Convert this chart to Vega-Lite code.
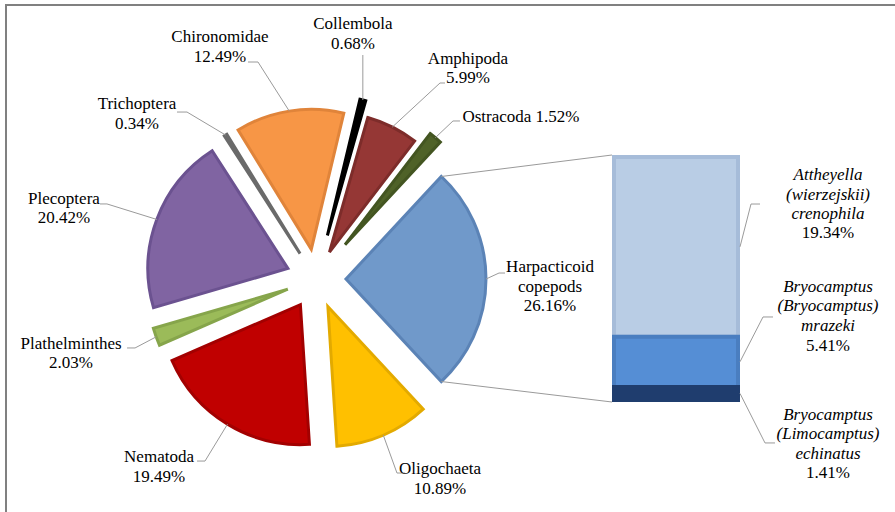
{
  "$schema": "https://vega.github.io/schema/vega-lite/v6.json",
  "width": 891,
  "height": 509,
  "autosize": {"type": "none"},
  "padding": {"left": 6, "top": 5, "right": -2, "bottom": -2},
  "background": "white",
  "config": {"view": {"stroke": "#808080", "strokeWidth": 2}},
  "layer": [
    {
      "data": {"values": [
        {"name": "Collembola", "pct": 0.68, "order": 1},
        {"name": "Amphipoda", "pct": 5.99, "order": 2},
        {"name": "Ostracoda", "pct": 1.52, "order": 3},
        {"name": "Harpacticoid copepods", "pct": 26.16, "order": 4},
        {"name": "Oligochaeta", "pct": 10.89, "order": 5},
        {"name": "Nematoda", "pct": 19.49, "order": 6},
        {"name": "Plathelminthes", "pct": 2.03, "order": 7},
        {"name": "Plecoptera", "pct": 20.42, "order": 8},
        {"name": "Trichoptera", "pct": 0.34, "order": 9},
        {"name": "Chironomidae", "pct": 12.49, "order": 10}
      ]},
      "transform": [
        {"stack": "pct", "groupby": [], "sort": [{"field": "order", "order": "ascending"}], "as": ["p0", "p1"]},
        {"calculate": "0.2346 + datum.p0 / 100.01 * 2 * PI", "as": "a0"},
        {"calculate": "0.2346 + datum.p1 / 100.01 * 2 * PI", "as": "a1"},
        {"calculate": "(datum.a0 + datum.a1) / 2", "as": "am"},
        {"calculate": "indexof(['Collembola', 'Ostracoda'], datum.name) >= 0 ? 45 : 30", "as": "d"},
        {"calculate": "datum.d * sin(datum.am)", "as": "ex"},
        {"calculate": "-datum.d * cos(datum.am)", "as": "ey"},
        {"calculate": "(datum.d + 140) * sin(datum.am)", "as": "px"},
        {"calculate": "-(datum.d + 140) * cos(datum.am)", "as": "py"},
        {"calculate": "[[-10,-76,0,-45,0],[75.7,-68.1,47.7,-44.1,5],[85.6,-20.7,17.6,-16.7,7],[64,-12,13,-6,6],[56.7,33.9,13.7,37.9,8],[-68.5,32.9,-22.5,36.9,-8],[-85.1,7.1,-21.1,11.1,-8],[-92.8,-20.5,-49.8,-15.5,-7],[-88.6,-31,-38.6,-23,-10],[-69.3,-74.1,-31.3,-49.1,-10]][datum.order - 1]", "as": "o"},
        {"calculate": "datum.px + datum.o[0]", "as": "tx"},
        {"calculate": "datum.py + datum.o[1]", "as": "ty"},
        {"calculate": "datum.px + datum.o[2]", "as": "lx"},
        {"calculate": "datum.py + datum.o[3]", "as": "ly"},
        {"calculate": "datum.lx + datum.o[4]", "as": "sx"},
        {"calculate": "datum.ex + 140 * sin(datum.a0)", "as": "cxt"},
        {"calculate": "datum.ey - 140 * cos(datum.a0)", "as": "cyt"},
        {"calculate": "datum.ex + 140 * sin(datum.a1)", "as": "cxb"},
        {"calculate": "datum.ey - 140 * cos(datum.a1)", "as": "cyb"},
        {"calculate": "datum.name == 'Ostracoda' ? datum.name + ' ' + format(datum.pct, '.2f') + '%' : replace(datum.name, ' ', '\\n') + '\\n' + format(datum.pct, '.2f') + '%'", "as": "lab"}
      ],
      "layer": [
        {
          "mark": {"type": "arc", "outerRadius": 140, "strokeWidth": 3, "strokeJoin": "miter"},
          "encoding": {
            "theta": {"field": "a0", "type": "quantitative", "scale": null},
            "theta2": {"field": "a1"},
            "x": {"field": "ex", "type": "quantitative", "scale": {"domain": [-310, 579], "range": [0, 889], "nice": false, "zero": false}, "axis": null},
            "y": {"field": "ey", "type": "quantitative", "scale": {"domain": [-274, 233], "range": [0, 507], "nice": false, "zero": false}, "axis": null},
            "color": {"field": "name", "type": "nominal", "legend": null, "scale": {
              "domain": ["Collembola", "Amphipoda", "Ostracoda", "Harpacticoid copepods", "Oligochaeta", "Nematoda", "Plathelminthes", "Plecoptera", "Trichoptera", "Chironomidae"],
              "range": ["#000000", "#953735", "#4F6228", "#7099CA", "#FFC000", "#C00000", "#9BBB59", "#8064A2", "#7F7F7F", "#F79646"]}},
            "stroke": {"field": "name", "type": "nominal", "legend": null, "scale": {
              "domain": ["Collembola", "Amphipoda", "Ostracoda", "Harpacticoid copepods", "Oligochaeta", "Nematoda", "Plathelminthes", "Plecoptera", "Trichoptera", "Chironomidae"],
              "range": ["#000000", "#7D2C2A", "#435521", "#5B83B6", "#E3AA00", "#A30000", "#86A54B", "#6B5290", "#6A6A6A", "#E0843A"]}}
          }
        },
        {
          "mark": {"type": "rule", "color": "#9a9a9a", "strokeWidth": 1},
          "encoding": {
            "x": {"field": "px", "type": "quantitative", "scale": {"domain": [-310, 579], "range": [0, 889], "nice": false, "zero": false}, "axis": null},
            "y": {"field": "py", "type": "quantitative", "scale": {"domain": [-274, 233], "range": [0, 507], "nice": false, "zero": false}, "axis": null},
            "x2": {"field": "lx"},
            "y2": {"field": "ly"}
          }
        },
        {
          "mark": {"type": "rule", "color": "#9a9a9a", "strokeWidth": 1},
          "encoding": {
            "x": {"field": "lx", "type": "quantitative", "scale": {"domain": [-310, 579], "range": [0, 889], "nice": false, "zero": false}, "axis": null},
            "y": {"field": "ly", "type": "quantitative", "scale": {"domain": [-274, 233], "range": [0, 507], "nice": false, "zero": false}, "axis": null},
            "x2": {"field": "sx"},
            "y2": {"field": "ly"}
          }
        },
        {
          "transform": [{"filter": "datum.name == 'Harpacticoid copepods'"}],
          "mark": {"type": "rule", "color": "#9a9a9a", "strokeWidth": 1},
          "encoding": {
            "x": {"field": "cxt", "type": "quantitative", "scale": {"domain": [-310, 579], "range": [0, 889], "nice": false, "zero": false}, "axis": null},
            "y": {"field": "cyt", "type": "quantitative", "scale": {"domain": [-274, 233], "range": [0, 507], "nice": false, "zero": false}, "axis": null},
            "x2": {"datum": 296},
            "y2": {"datum": -124}
          }
        },
        {
          "transform": [{"filter": "datum.name == 'Harpacticoid copepods'"}],
          "mark": {"type": "rule", "color": "#9a9a9a", "strokeWidth": 1},
          "encoding": {
            "x": {"field": "cxb", "type": "quantitative", "scale": {"domain": [-310, 579], "range": [0, 889], "nice": false, "zero": false}, "axis": null},
            "y": {"field": "cyb", "type": "quantitative", "scale": {"domain": [-274, 233], "range": [0, 507], "nice": false, "zero": false}, "axis": null},
            "x2": {"datum": 296},
            "y2": {"datum": 123}
          }
        },
        {
          "mark": {"type": "text", "font": "Liberation Serif", "fontSize": 17, "lineHeight": 19.5, "lineBreak": "\n", "align": "center", "baseline": "middle", "color": "#000000"},
          "encoding": {
            "x": {"field": "tx", "type": "quantitative", "scale": {"domain": [-310, 579], "range": [0, 889], "nice": false, "zero": false}, "axis": null},
            "y": {"field": "ty", "type": "quantitative", "scale": {"domain": [-274, 233], "range": [0, 507], "nice": false, "zero": false}, "axis": null},
            "text": {"field": "lab"}
          }
        }
      ]
    },
    {
      "data": {"values": [
        {"sp": "Attheyella (wierzejskii) crenophila", "pct": 19.34, "order": 1},
        {"sp": "Bryocamptus (Bryocamptus) mrazeki", "pct": 5.41, "order": 2},
        {"sp": "Bryocamptus (Limocamptus) echinatus", "pct": 1.41, "order": 3}
      ]},
      "transform": [
        {"stack": "pct", "groupby": [], "sort": [{"field": "order", "order": "ascending"}], "as": ["b0", "b1"]},
        {"calculate": "(datum.b0 + datum.b1) / 2", "as": "bm"},
        {"calculate": "format(datum.pct, '.2f') + '%'", "as": "pl"}
      ],
      "layer": [
        {
          "mark": {"type": "rect", "strokeWidth": 4, "strokeJoin": "miter"},
          "encoding": {
            "x": {"datum": 0, "type": "quantitative", "scale": {"domain": [0, 1], "range": [608, 732], "nice": false, "zero": false}, "axis": null},
            "x2": {"datum": 1},
            "y": {"field": "b0", "type": "quantitative", "scale": {"domain": [0, 26.16], "range": [152, 395], "nice": false, "zero": false}, "axis": null},
            "y2": {"field": "b1"},
            "color": {"field": "sp", "type": "nominal", "legend": null, "scale": {
              "domain": ["Attheyella (wierzejskii) crenophila", "Bryocamptus (Bryocamptus) mrazeki", "Bryocamptus (Limocamptus) echinatus"],
              "range": ["#B9CDE5", "#558ED5", "#1F3D6E"]}},
            "stroke": {"field": "sp", "type": "nominal", "legend": null, "scale": {
              "domain": ["Attheyella (wierzejskii) crenophila", "Bryocamptus (Bryocamptus) mrazeki", "Bryocamptus (Limocamptus) echinatus"],
              "range": ["#A6BCD9", "#4A7EC0", "#1F3D6E"]}}
          }
        },
        {
          "mark": {"type": "rule", "color": "#9a9a9a", "strokeWidth": 1, "xOffset": 2,
            "x2Offset": {"expr": "[13, 25, 27][datum.order - 1]"},
            "y2Offset": {"expr": "[-42.8, -44.8, 49.5][datum.order - 1]"}},
          "encoding": {
            "x": {"datum": 1, "type": "quantitative", "scale": {"domain": [0, 1], "range": [608, 732], "nice": false, "zero": false}, "axis": null},
            "x2": {"datum": 1},
            "y": {"field": "bm", "type": "quantitative", "scale": {"domain": [0, 26.16], "range": [152, 395], "nice": false, "zero": false}, "axis": null},
            "y2": {"field": "bm"}
          }
        },
        {
          "mark": {"type": "rule", "color": "#9a9a9a", "strokeWidth": 1,
            "xOffset": {"expr": "[13, 25, 27][datum.order - 1]"},
            "x2Offset": {"expr": "[22, 35, 37][datum.order - 1]"},
            "yOffset": {"expr": "[-42.8, -44.8, 49.5][datum.order - 1]"},
            "y2Offset": {"expr": "[-42.8, -44.8, 49.5][datum.order - 1]"}},
          "encoding": {
            "x": {"datum": 1, "type": "quantitative", "scale": {"domain": [0, 1], "range": [608, 732], "nice": false, "zero": false}, "axis": null},
            "x2": {"datum": 1},
            "y": {"field": "bm", "type": "quantitative", "scale": {"domain": [0, 26.16], "range": [152, 395], "nice": false, "zero": false}, "axis": null},
            "y2": {"field": "bm"}
          }
        },
        {
          "mark": {"type": "text", "font": "Liberation Serif", "fontSize": 17, "fontStyle": "italic", "lineHeight": 19.5, "lineBreak": " ", "align": "center", "baseline": "middle", "color": "#000000", "dx": 90,
            "dy": {"expr": "[-71.8, -74.8, 21.5][datum.order - 1]"}},
          "encoding": {
            "x": {"datum": 1, "type": "quantitative", "scale": {"domain": [0, 1], "range": [608, 732], "nice": false, "zero": false}, "axis": null},
            "y": {"field": "bm", "type": "quantitative", "scale": {"domain": [0, 26.16], "range": [152, 395], "nice": false, "zero": false}, "axis": null},
            "text": {"field": "sp"}
          }
        },
        {
          "mark": {"type": "text", "font": "Liberation Serif", "fontSize": 17, "align": "center", "baseline": "middle", "color": "#000000", "dx": 90,
            "dy": {"expr": "[-13.8, -15.8, 79.5][datum.order - 1]"}},
          "encoding": {
            "x": {"datum": 1, "type": "quantitative", "scale": {"domain": [0, 1], "range": [608, 732], "nice": false, "zero": false}, "axis": null},
            "y": {"field": "bm", "type": "quantitative", "scale": {"domain": [0, 26.16], "range": [152, 395], "nice": false, "zero": false}, "axis": null},
            "text": {"field": "pl"}
          }
        }
      ]
    }
  ],
  "resolve": {"scale": {"x": "independent", "y": "independent", "color": "independent", "stroke": "independent"}}
}
